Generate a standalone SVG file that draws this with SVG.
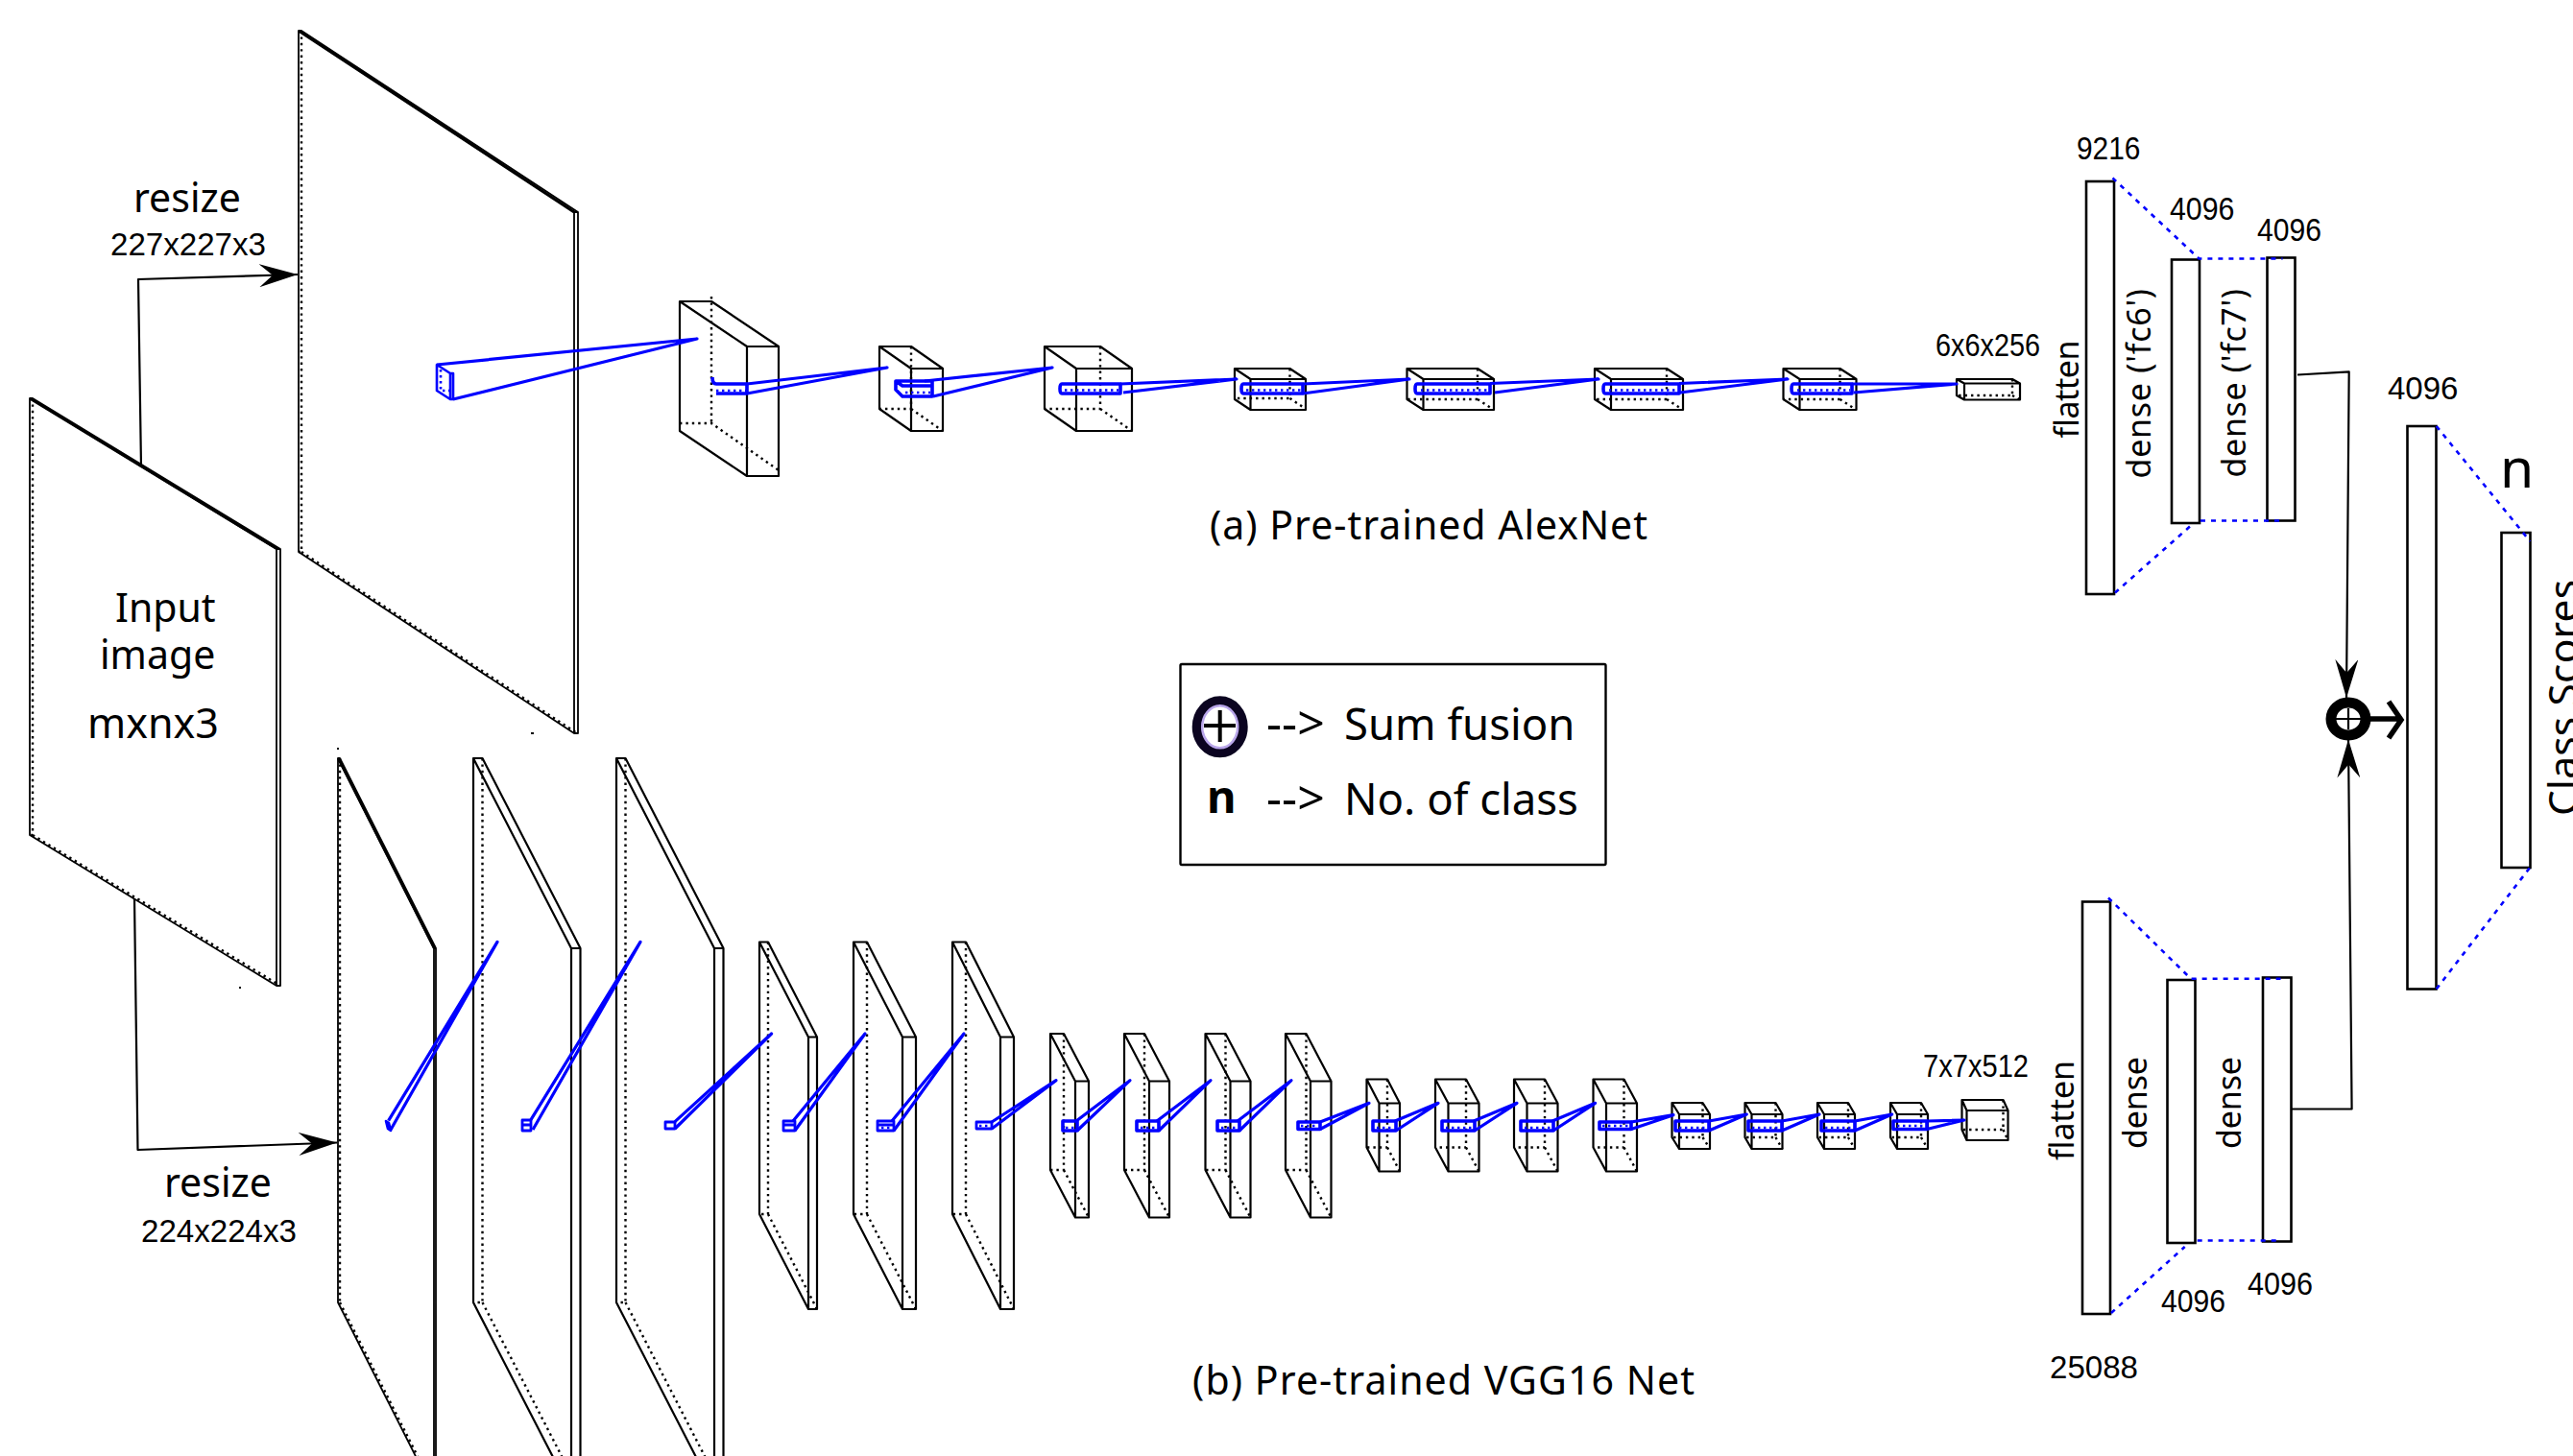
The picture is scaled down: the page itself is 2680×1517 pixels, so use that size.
<svg xmlns="http://www.w3.org/2000/svg" width="2680" height="1517" viewBox="0 0 2680 1517">
<style>
.s{fill:none;stroke:#000;stroke-width:2.2;stroke-linejoin:round}
.p{fill:none;stroke:#000;stroke-width:1.8;stroke-linejoin:round}
.d{fill:none;stroke:#000;stroke-width:2.4;stroke-dasharray:2.4 4}
.r{fill:#fff;stroke:#000;stroke-width:2.6}
.bb{fill:none;stroke:#00f;stroke-width:3.6;stroke-linejoin:round}
.bd{fill:none;stroke:#00f;stroke-width:2.6;stroke-dasharray:2.4 3.6}
.c{fill:none;stroke:#00f;stroke-width:3.2;stroke-linejoin:round}
.bl{fill:none;stroke:#00f;stroke-width:2.6;stroke-dasharray:5 6}
.a{fill:none;stroke:#000;stroke-width:2.2;stroke-linejoin:round}
.n{font-family:"Noto Sans","Open Sans",sans-serif;font-size:41px;fill:#000}
.l{font-family:"Liberation Sans",Arial,sans-serif;font-size:34px;fill:#000}
</style>
<defs>
<marker id="head" markerUnits="userSpaceOnUse" viewBox="0 0 40 24" refX="40" refY="12" markerWidth="40" markerHeight="24" orient="auto"><path d="M0 0L40 12L0 24L14 12Z" fill="#000"/></marker>
</defs>
<rect width="2680" height="1517" fill="#fff"/>

<g id="input-image">
<path class="p" d="M31 415h3l258 157v455h-4l-257 -157z l257 157v455m0 -455h4"/>
<path class="s" d="M31 415l258 157" style="stroke-width:3"/>
<path class="d" d="M34 415v455h-3m3 0l258 157"/>
<rect x="249" y="1028" width="2" height="2"/>
<text class="n" x="120" y="648">Input</text>
<text class="n" x="104" y="697">image</text>
<text class="n" x="91" y="769" style="font-size:43px">mxnx3</text>
</g>

<g id="a-plane">
<path class="p" d="M311 32h3l288 189v543h-4l-287 -189z l287 189v543m0 -543h4"/>
<path class="s" d="M311 32l287 189" style="stroke-width:3"/>
<path class="d" d="M314 32v543h-3m3 0l287 189"/>
<rect x="553" y="763" width="3" height="2"/>
<path class="bb" d="M455 380l14 9h3v27h-3l-14 -9zl14 9v27" style="stroke-width:2.6"/>
<path class="bd" d="M459 385v22h12"/>
</g>
<g id="a-box-1">
<path class="s" d="M708 314h33l70 47v135h-33l-70 -47zl70 47v135m0 -135h33"/>
<path class="d" d="M741 309v132M708 441h33l70 49"/>
<path class="bb" d="M742 393q0 7 4 7h32v10h-32"/>
<path class="bd" d="M746 407h32"/>
</g>
<g id="a-box-2">
<path class="s" d="M916 361h33l33 23v65h-33l-33 -23zl33 23v65m0 -65h33"/>
<path class="d" d="M949 361v65h-33m33 0l33 23"/>
<path class="bb" d="M933 397h38v16h-31l-7 -7zl7 5h31"/>
<path class="bd" d="M943 409h26"/>
</g>
<g id="a-box-3">
<path class="s" d="M1088 361h58l33 23v65h-58l-33 -23zl33 23v65m0 -65h58"/>
<path class="d" d="M1146 361v65h-58m58 0l33 23"/>
<path class="bb" d="M1106 400h61v10h-61q-2 0 -2 -5t2 -5z"/>
<path class="bd" d="M1109 406.500h56"/>
</g>
<g id="a-box-4">
<path class="s" d="M1286 384h57.500l16.500 11v32h-57.500l-16.500 -11zl16.500 11v32m0 -32h57.500"/>
<path class="d" d="M1343.500 384v31h-57.500m57.500 0l16.500 11"/>
<path class="bb" d="M1295 400h62v10h-62q-2 0 -2 -5t2 -5z"/>
<path class="bd" d="M1298 406.500h58"/>
</g>
<g id="a-box-5">
<path class="s" d="M1465.500 384h73.500l17 11v32h-73.500l-17 -11zl17 11v32m0 -32h73.500"/>
<path class="d" d="M1539 384v32h-73.500m73.500 0l17 11"/>
<path class="bb" d="M1476 400h76v10h-76q-2 0 -2 -5t2 -5z"/>
<path class="bd" d="M1480 406.500h70"/>
</g>
<g id="a-box-6">
<path class="s" d="M1661 384h75l17 11v32h-75l-17 -11zl17 11v32m0 -32h75"/>
<path class="d" d="M1736 384v32h-75m75 0l17 11"/>
<path class="bb" d="M1672 400h77v10h-77q-2 0 -2 -5t2 -5z"/>
<path class="bd" d="M1676 406.500h71"/>
</g>
<g id="a-box-7">
<path class="s" d="M1857.500 384h59l17 11v32h-59l-17 -11zl17 11v32m0 -32h59"/>
<path class="d" d="M1916.500 384v32h-59m59 0l17 11"/>
<path class="bb" d="M1868 400h61v10h-61q-2 0 -2 -5t2 -5z"/>
<path class="bd" d="M1872 406.500h55"/>
</g>
<g id="a-box-8">
<path class="s" d="M2038 395h58l8 4.500v17h-58l-8 -4.500zl8 4.500v17m0 -17h58"/>
<path class="d" d="M2096 395v17h-58m58 0l8 4.500"/>
<text class="l" x="2016" y="371" textLength="109" lengthAdjust="spacingAndGlyphs">6x6x256</text>
</g>
<text class="n" x="1260" y="562" textLength="456" id="caption-a">(a) Pre-trained AlexNet</text>

<g id="b-plane-1">
<path class="p" d="M352 790h2l100 198v567h-2l-100 -198zl100 198v567m0 -567h2"/>
<path class="s" d="M352 790l100 198"/>
<path class="d" d="M354 790v567h-2m2 0l100 198"/>
<rect x="351" y="779" width="2" height="2"/>
<path class="bb" d="M402 1168l3 2 2 8-3-2z" style="stroke-width:2.6"/>
</g>
<g id="b-plane-2">
<path class="s" d="M493 790h9.500l102 198v567h-9.500l-102 -198zl102 198v567m0 -567h9.500"/>
<path class="d" d="M502.500 790v567h-9.500m9.500 0l102 198"/>
<path class="bb" d="M544 1167h9v11h-9zM544 1172h9" style="stroke-width:2.8"/>
</g>
<g id="b-plane-3">
<path class="s" d="M642 790h9.500l102 198v567h-9.500l-102 -198zl102 198v567m0 -567h9.500"/>
<path class="d" d="M651.500 790v567h-9.500m9.500 0l102 198"/>
<path class="bb" d="M693 1169h10v7h-10z" style="stroke-width:2.8"/>
</g>
<g id="b-plane-4">
<path class="s" d="M791 981.500h9l51 99v283.500h-9l-51 -99zl51 99v283.500m0 -283.500h9"/>
<path class="d" d="M800 981.500v283.500h-9m9 0l51 99"/>
<path class="bb" d="M816 1168h12v10h-12zM816 1172h12" style="stroke-width:2.8"/>
</g>
<g id="b-plane-5">
<path class="s" d="M889 981.500h14l51 99v283.500h-14l-51 -99zl51 99v283.500m0 -283.500h14"/>
<path class="d" d="M903 981.500v283.500h-14m14 0l51 99"/>
<path class="bb" d="M914 1168h17v10h-17zM914 1172h17" style="stroke-width:2.8"/>
<path class="bd" d="M918 1175h11"/>
</g>
<g id="b-plane-6">
<path class="s" d="M992 981.500h14l50 99v283.500h-14l-50 -99zl50 99v283.500m0 -283.500h14"/>
<path class="d" d="M1006 981.500v283.500h-14m14 0l50 99"/>
<path class="bb" d="M1017 1169h16v7h-16z" style="stroke-width:2.8"/>
<path class="bd" d="M1020 1173h11"/>
</g>
<g id="b-box-7">
<path class="s" d="M1094 1077h14l26 49.500v142h-14l-26 -49.500zl26 49.500v142m0 -142h14"/>
<path class="d" d="M1108 1077v142h-14m14 0l26 49.500"/>
<path class="bb" d="M1107 1168h15v10h-15z"/>
<path class="bd" d="M1110 1175h11"/>
</g>
<g id="b-box-8">
<path class="s" d="M1171 1077h21l26 49.500v142h-21l-26 -49.500zl26 49.500v142m0 -142h21"/>
<path class="d" d="M1192 1077v142h-21m21 0l26 49.500"/>
<path class="bb" d="M1184 1168h23v10h-23z"/>
<path class="bd" d="M1188 1175h18"/>
</g>
<g id="b-box-9">
<path class="s" d="M1255.500 1077h21l26 49.500v142h-21l-26 -49.500zl26 49.500v142m0 -142h21"/>
<path class="d" d="M1276.500 1077v142h-21m21 0l26 49.500"/>
<path class="bb" d="M1268 1168h23v10h-23z"/>
<path class="bd" d="M1272 1175h18"/>
</g>
<g id="b-box-10">
<path class="s" d="M1339 1077h21.500l26 49.500v142h-21.500l-26 -49.500zl26 49.500v142m0 -142h21.500"/>
<path class="d" d="M1360.500 1077v142h-21.500m21.500 0l26 49.500"/>
<path class="bb" d="M1352 1169h23v7.500h-23z"/>
<path class="bd" d="M1355 1173h18"/>
</g>
<g id="b-box-11">
<path class="s" d="M1423.500 1124.500h21.500l13 25v71h-21.500l-13 -25zl13 25v71m0 -71h21.500"/>
<path class="d" d="M1445 1124.500v71h-21.500m21.500 0l13 25"/>
<path class="bb" d="M1430 1168h24v10h-24z"/>
<path class="bd" d="M1434 1175h18"/>
</g>
<g id="b-box-12">
<path class="s" d="M1495 1124.500h32l13.500 25v71h-32l-13.500 -25zl13.500 25v71m0 -71h32"/>
<path class="d" d="M1527 1124.500v71h-32m32 0l13.500 25"/>
<path class="bb" d="M1502 1168h34v10h-34z"/>
<path class="bd" d="M1506 1175h28"/>
</g>
<g id="b-box-13">
<path class="s" d="M1577 1124.500h32l13.500 25v71h-32l-13.500 -25zl13.500 25v71m0 -71h32"/>
<path class="d" d="M1609 1124.500v71h-32m32 0l13.500 25"/>
<path class="bb" d="M1584 1168h34v10h-34z"/>
<path class="bd" d="M1588 1175h28"/>
</g>
<g id="b-box-14">
<path class="s" d="M1659.500 1124.500h32l13.500 25v71h-32l-13.500 -25zl13.500 25v71m0 -71h32"/>
<path class="d" d="M1691.500 1124.500v71h-32m32 0l13.500 25"/>
<path class="bb" d="M1666 1169h33v7.500h-33z"/>
<path class="bd" d="M1669 1173h28"/>
</g>
<g id="b-box-15">
<path class="s" d="M1741.500 1149h32l7.500 12v36h-32l-7.500 -12zl7.500 12v36m0 -36h32"/>
<path class="d" d="M1773.500 1149v36h-32m32 0l7.500 12"/>
<path class="bb" d="M1745 1168h35v10h-35z"/>
<path class="bd" d="M1749 1175h29"/>
</g>
<g id="b-box-16">
<path class="s" d="M1817.500 1149h32l7 12v36h-32l-7 -12zl7 12v36m0 -36h32"/>
<path class="d" d="M1849.500 1149v36h-32m32 0l7 12"/>
<path class="bb" d="M1821 1168h35v10h-35z"/>
<path class="bd" d="M1825 1175h29"/>
</g>
<g id="b-box-17">
<path class="s" d="M1893 1149h32l7 12v36h-32l-7 -12zl7 12v36m0 -36h32"/>
<path class="d" d="M1925 1149v36h-32m32 0l7 12"/>
<path class="bb" d="M1897 1168h35v10h-35z"/>
<path class="bd" d="M1901 1175h29"/>
</g>
<g id="b-box-18">
<path class="s" d="M1969 1149h32l7 12v36h-32l-7 -12zl7 12v36m0 -36h32"/>
<path class="d" d="M2001 1149v36h-32m32 0l7 12"/>
<path class="bb" d="M1972 1168h35v8.500h-35z"/>
<path class="bd" d="M1976 1173h29"/>
</g>
<g id="b-box-19">
<path class="s" d="M2043.500 1146h43l5 11v31h-43l-5 -11zl5 11v31m0 -31h43"/>
<path class="d" d="M2086.500 1146v31h-43m43 0l5 11"/>
<text class="l" x="2003" y="1122" textLength="110" lengthAdjust="spacingAndGlyphs">7x7x512</text>
</g>
<text class="n" x="1242" y="1453" textLength="523" id="caption-b">(b) Pre-trained VGG16 Net</text>

<g id="fc-a">
<rect class="r" x="2173" y="189" width="29" height="430"/>
<rect class="r" x="2262" y="270.500" width="29" height="274.500"/>
<rect class="r" x="2361.500" y="268.500" width="29" height="274"/>
<text class="l" x="2163" y="166" textLength="66.500" lengthAdjust="spacingAndGlyphs">9216</text>
<text class="l" x="2260" y="229" textLength="67.500" lengthAdjust="spacingAndGlyphs">4096</text>
<text class="l" x="2351" y="251" textLength="67" lengthAdjust="spacingAndGlyphs">4096</text>
<text class="n" transform="translate(2165 457)rotate(-90)" textLength="102" style="font-size:34px">flatten</text>
<text class="n" transform="translate(2239.500 498.500)rotate(-90)" textLength="197.500" style="font-size:34px">dense ('fc6')</text>
<text class="n" transform="translate(2338.500 497.500)rotate(-90)" textLength="196.500" style="font-size:34px">dense ('fc7')</text>
</g>
<g id="fc-b">
<rect class="r" x="2169" y="939.500" width="29" height="429.500"/>
<rect class="r" x="2257.500" y="1021" width="29" height="274"/>
<rect class="r" x="2357" y="1018.500" width="29.500" height="275"/>
<text class="l" x="2251" y="1367" textLength="67" lengthAdjust="spacingAndGlyphs">4096</text>
<text class="l" x="2341" y="1349" textLength="68" lengthAdjust="spacingAndGlyphs">4096</text>
<text class="l" x="2135" y="1436" textLength="92" lengthAdjust="spacingAndGlyphs">25088</text>
<text class="n" transform="translate(2160 1209)rotate(-90)" textLength="104" style="font-size:34px">flatten</text>
<text class="n" transform="translate(2235.500 1197)rotate(-90)" textLength="96" style="font-size:34px">dense</text>
<text class="n" transform="translate(2334 1197)rotate(-90)" textLength="96" style="font-size:34px">dense</text>
</g>
<g id="fusion-dense">
<rect class="r" x="2507.500" y="444" width="30" height="586.500"/>
<text class="l" x="2487" y="416" textLength="73.500" lengthAdjust="spacingAndGlyphs">4096</text>
</g>
<g id="class-scores">
<rect class="r" x="2605.500" y="555" width="30" height="349"/>
<text class="n" x="2604" y="508" style="font-size:57px">n</text>
<text class="n" transform="translate(2685 850)rotate(-90)" textLength="246" style="font-size:42.500px">Class Scores</text>
</g>
<g id="sum-fusion">
<ellipse cx="2446" cy="749" rx="18" ry="17" fill="#fff" stroke="#000" stroke-width="11"/>
<path d="M2432 749h28M2446 738v22" fill="none" stroke="#000" stroke-width="2.200"/>
</g>

<g id="legend">
<rect x="1229.500" y="692" width="443" height="209" rx="1.500" fill="#fff" stroke="#000" stroke-width="2.400"/>
<ellipse cx="1270.700" cy="757.300" rx="24" ry="27" fill="#fff" stroke="#0b0420" stroke-width="10"/>
<ellipse cx="1270.700" cy="757.300" rx="18.500" ry="22" fill="none" stroke="#b9a6ea" stroke-width="2.500"/>
<path d="M1254 756h33M1270.700 740v33" fill="none" stroke="#000" stroke-width="4"/>
<text class="n" x="1319" y="771" style="font-size:45.500px"><tspan style="font-size:50px">--&gt;</tspan> <tspan x="1400">Sum fusion</tspan></text>
<text class="n" x="1257" y="847" font-weight="700" style="font-size:47px">n</text>
<text class="n" x="1319" y="849" style="font-size:45.500px"><tspan style="font-size:50px">--&gt;</tspan> <tspan x="1400">No. of class</tspan></text>
</g>

<g id="connectors">
<path class="c" d="M455 380L726 353L472 416"/>
<path class="c" d="M778 400L924 383L778 410"/>
<path class="c" d="M963 397L1096 383L972 413"/>
<path class="c" d="M1167 400L1288 395L1170 409"/>
<path class="c" d="M1357 400L1468 395L1357 410"/>
<path class="c" d="M1552 399.500L1665 395L1557 409"/>
<path class="c" d="M1749 399.500L1862 395L1750 409"/>
<path class="c" d="M1929 400L2038 400L1931 409"/>
<path class="c" d="M404.600 1167.600L518 981.400L407 1177"/>
<path class="c" d="M553 1166.700L667 981.400L555 1177"/>
<path class="c" d="M703 1168.600L803.600 1077L703 1176"/>
<path class="c" d="M826 1168L901 1077L828 1178"/>
<path class="c" d="M929 1168L1004 1077L931 1178"/>
<path class="c" d="M1033 1169L1100 1125.700L1033 1176"/>
<path class="c" d="M1121 1168L1177 1125.700L1122 1178"/>
<path class="c" d="M1205 1168L1261 1125.700L1207 1178"/>
<path class="c" d="M1289 1168L1345 1125.700L1291 1178"/>
<path class="c" d="M1375 1169L1426 1149.300L1375 1176.500"/>
<path class="c" d="M1453 1168L1498 1149.300L1454 1178"/>
<path class="c" d="M1535 1168L1580 1149.300L1536 1178"/>
<path class="c" d="M1617 1168L1661.600 1149.300L1618 1178"/>
<path class="c" d="M1699 1169L1743 1161.700L1699 1176.500"/>
<path class="c" d="M1780 1168L1819.300 1161L1780 1178"/>
<path class="c" d="M1856 1168L1895 1161L1856 1178"/>
<path class="c" d="M1932 1168L1970.700 1161L1932 1178"/>
<path class="c" d="M2007 1168L2046 1167L2007 1176.500"/>
<path class="bl" d="M2200.500 185.500L2290.500 269.500H2377.500"/>
<path class="bl" d="M2203 617.500L2281 548.500"/>
<path class="bl" d="M2292 542.500H2377.500"/>
<path class="bl" d="M2196 935.500L2282 1019.700H2375.500"/>
<path class="bl" d="M2199 1368L2275.700 1299"/>
<path class="bl" d="M2288.700 1292.500H2374"/>
<path class="bl" d="M2537.700 444L2635.300 564"/>
<path class="bl" d="M2537.700 1030.400L2635.300 903.700"/>
<path class="a" marker-end="url(#head)" d="M147 487L144 291L310 286"/>
<path class="a" marker-end="url(#head)" d="M140 936L143.500 1198L351 1190.500"/>
<path class="a" marker-end="url(#head)" d="M2393 390.500L2446.700 387.300L2444 727"/>
<path class="a" marker-end="url(#head)" d="M2386.700 1155.500H2449.600L2446 770.500"/>
<path d="M2469 749H2499M2488 731L2501 750L2488 769" fill="none" stroke="#000" stroke-width="5.500"/>
</g>

<g id="resize-labels">
<text class="n" x="139" y="221">resize</text>
<text class="l" x="115" y="266" textLength="162" lengthAdjust="spacingAndGlyphs">227x227x3</text>
<text class="n" x="171" y="1247">resize</text>
<text class="l" x="147" y="1294" textLength="162" lengthAdjust="spacingAndGlyphs">224x224x3</text>
</g>
</svg>
